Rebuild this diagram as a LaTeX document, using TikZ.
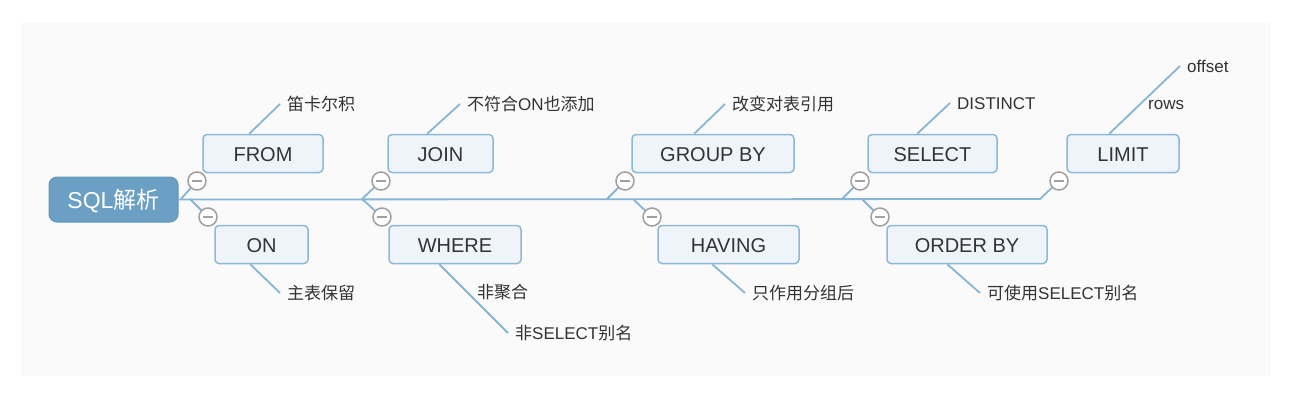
\documentclass[tikz,border=0pt]{standalone}
\usepackage{fontspec}
\setmainfont{Liberation Sans}
\newfontfamily\cjk{Noto Sans CJK SC}
\usetikzlibrary{calc}
\definecolor{bgc}{HTML}{FAFAFA}
\definecolor{rootfill}{HTML}{6B9FC3}
\definecolor{rootborder}{HTML}{5F96BC}
\definecolor{boxfill}{HTML}{EEF4F9}
\definecolor{boxborder}{HTML}{8DB9D6}
\definecolor{linec}{HTML}{86B6D4}
\definecolor{foldc}{HTML}{A0A0A0}
\definecolor{txt}{HTML}{333333}
\begin{document}
\begin{tikzpicture}[x=1pt,y=-1pt,
  rootbox/.style={draw=rootborder, fill=rootfill, rounded corners=8pt, line width=1pt,
    minimum width=129pt, minimum height=45pt, inner sep=0pt, text=white,
    font=\fontsize{23}{23}\selectfont, text height=17pt, text depth=0pt},
  topic/.style={draw=boxborder, fill=boxfill, rounded corners=4pt, line width=1.5pt,
    minimum height=38pt, inner sep=0pt, text=txt,
    font=\fontsize{20}{20}\selectfont, text height=15pt, text depth=0pt},
  leaf/.style={anchor=west, inner xsep=7pt, inner ysep=0pt, text=txt,
    font=\fontsize{17}{17}\selectfont, text height=13pt, text depth=0pt},
  conn/.style={draw=linec, line width=1.8pt},
  fold/.style={circle, draw=foldc, fill=white, line width=1.5pt, minimum size=18pt, inner sep=0pt,
    path picture={\draw[foldc, line width=1.6pt]
      ([xshift=-5pt]path picture bounding box.center) -- ([xshift=5pt]path picture bounding box.center);}}
]
\useasboundingbox (0,0) rectangle (1299,400);
\fill[white] (0,0) rectangle (1299,400);
\fill[bgc] (21,23) rectangle (1271,376);

% root
\node[rootbox] (root) at (113.5,199.5) {SQL{\cjk 解析}};

% topics
\node[topic, minimum width=120pt] (from) at (263,153.5) {FROM};
\node[topic, minimum width=93pt]  (on)   at (261.5,244.5) {ON};
\node[topic, minimum width=105pt] (join) at (440.5,153.5) {JOIN};
\node[topic, minimum width=132pt] (where) at (455,244.5) {WHERE};
\node[topic, minimum width=162pt] (group) at (713,153.5) {GROUP BY};
\node[topic, minimum width=141pt] (having) at (728.5,244.5) {HAVING};
\node[topic, minimum width=129pt] (select) at (932.5,153.5) {SELECT};
\node[topic, minimum width=160pt] (order) at (967,244.5) {ORDER BY};
\node[topic, minimum width=112pt] (limit) at (1123,153.5) {LIMIT};

% spine junctions
\coordinate (j1u) at (181,199);
\coordinate (j1d) at (190,199);
\coordinate (j2) at (362,199);
\coordinate (j3u) at (607,199);
\coordinate (j3d) at (633,199);
\coordinate (j4u) at (842,199);
\coordinate (j4d) at (862,199);
\coordinate (j5) at (1040,199);

% fold circles positions
\coordinate (p1) at (197,181);
\coordinate (p2) at (208,217);
\coordinate (p3) at (381,181);
\coordinate (p4) at (382,217);
\coordinate (p5) at (625,181);
\coordinate (p6) at (652,217);
\coordinate (p7) at (860,181);
\coordinate (p8) at (880,217);
\coordinate (p9) at (1059,181);

% spine and branches
\draw[conn] (root.east) -- (j5) -- (p9);
\draw[conn] (j1u) -- (p1);
\draw[conn] (j1d) -- (p2);
\draw[conn] (j2) -- (p3);
\draw[conn] (j2) -- (p4);
\draw[conn] (j3u) -- (p5);
\draw[conn] (j3d) -- (p6);
\draw[conn] (j4u) -- (p7);
\draw[conn] (j4d) -- (p8);

% leaves
\node[leaf] (l1) at (280,104) {\cjk 笛卡尔积};
\node[leaf] (l2) at (280,293) {\cjk 主表保留};
\node[leaf] (l3) at (460,104) {{\cjk 不符合}ON{\cjk 也添加}};
\node[leaf] (l4a) at (470,292) {\cjk 非聚合};
\node[leaf] (l4b) at (508,333) {{\cjk 非}SELECT{\cjk 别名}};
\node[leaf] (l5) at (725,104) {\cjk 改变对表引用};
\node[leaf] (l6) at (745,293) {\cjk 只作用分组后};
\node[leaf] (l7) at (950,103) {DISTINCT};
\node[leaf] (l8) at (980,293) {{\cjk 可使用}SELECT{\cjk 别名}};
\node[leaf] (l9a) at (1141,103) {rows};
\node[leaf] (l9b) at (1180,66) {offset};

\draw[conn] ($(from.north west)+(47,0)$) -- (l1.west);
\draw[conn] ($(on.south west)+(36,0)$) -- (l2.west);
\draw[conn] ($(join.north west)+(40,0)$) -- (l3.west);
\draw[conn] ($(where.south west)+(51,0)$) -- (l4b.west);
\draw[conn] ($(group.north west)+(63,0)$) -- (l5.west);
\draw[conn] ($(having.south west)+(55,0)$) -- (l6.west);
\draw[conn] ($(select.north west)+(50,0)$) -- (l7.west);
\draw[conn] ($(order.south west)+(61,0)$) -- (l8.west);
\draw[conn] ($(limit.north west)+(43,0)$) -- (l9b.west);

% fold markers
\node[fold] (f1) at (p1) {};
\node[fold] (f2) at (p2) {};
\node[fold] (f3) at (p3) {};
\node[fold] (f4) at (p4) {};
\node[fold] (f5) at (p5) {};
\node[fold] (f6) at (p6) {};
\node[fold] (f7) at (p7) {};
\node[fold] (f8) at (p8) {};
\node[fold] (f9) at (p9) {};
\end{tikzpicture}
\end{document}
